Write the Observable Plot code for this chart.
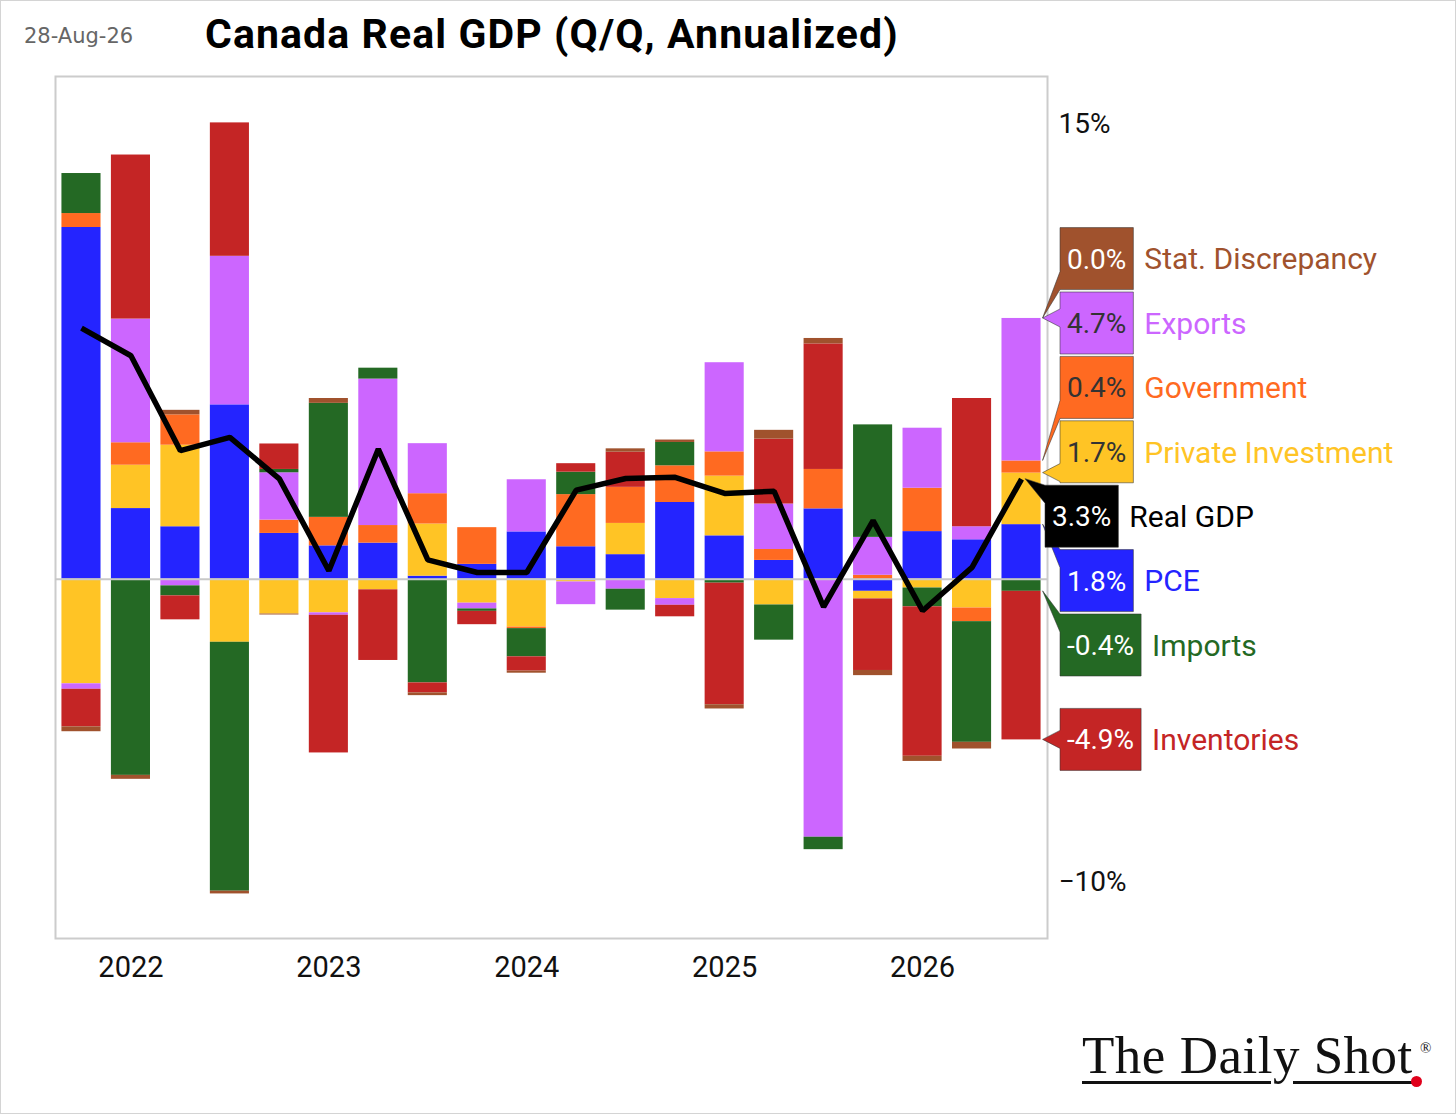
<!DOCTYPE html>
<html>
<head>
<meta charset="utf-8">
<script src="https://cdn.jsdelivr.net/npm/d3@7"></script>
<script src="https://cdn.jsdelivr.net/npm/@observablehq/plot@0.6"></script>
<style>
html, body { margin: 0; padding: 0; background: #fff; overflow: hidden; }
#wrap { position: relative; width: 1456px; height: 1114px; box-sizing: border-box; border: 1px solid #d4d4d4; background: #fff; overflow: hidden; }
#date { position: absolute; left: 23px; top: 25px; font-family: "DejaVu Sans", sans-serif; font-size: 21px; line-height: 1; color: #666; }
#title { position: absolute; left: 204px; top: 13px; font-family: Roboto, sans-serif; font-weight: 700; font-size: 41px; letter-spacing: 1.1px; line-height: 1; color: #000; }
#chart { position: absolute; left: 0; top: 0; }
#logo { position: absolute; left: 1081px; top: 1028px; font-family: "Liberation Serif", "DejaVu Serif", serif; font-size: 53px; line-height: 1; color: #111; white-space: nowrap; letter-spacing: 0.5px; }
#reg { position: absolute; left: 1419px; top: 1040px; font-family: "Liberation Serif", serif; font-size: 15px; line-height: 1; color: #111; }
.ul { position: absolute; height: 3px; background: #111; top: 1080px; }
#dot { position: absolute; left: 1410px; top: 1075px; width: 11px; height: 11px; border-radius: 50%; background: #e0001b; }
</style>
</head>
<body>
<div id="wrap">
  <div id="date">28-Aug-26</div>
  <div id="title">Canada Real GDP (Q/Q, Annualized)</div>
  <div id="chart"></div>
  <div id="logo">The Daily Shot</div>
  <div id="reg">®</div>
  <div class="ul" style="left:1081px;width:189px;"></div>
  <div class="ul" style="left:1292px;width:122px;"></div>
  <div id="dot"></div>
</div>
<script>
// ---------- data ----------
const quarters = ["2021Q4","2022Q1","2022Q2","2022Q3","2022Q4","2023Q1","2023Q2","2023Q3","2023Q4","2024Q1",
                  "2024Q2","2024Q3","2024Q4","2025Q1","2025Q2","2025Q3","2025Q4","2026Q1","2026Q2","2026Q3"];
const seriesNames = ["PCE","Private Investment","Government","Exports","Imports","Inventories","Stat. Discrepancy"];
const seriesColors = ["#2424FF","#FFC425","#FF6A21","#CC66FF","#246924","#C42525","#A0522D"];

const pce         = [11.6, 2.33, 1.73, 5.75, 1.51, 1.10, 1.19, 0.10, 0.49, 1.56, 1.07, 0.81, 2.53, 1.43, 0.62, 2.32, -0.40, 1.57, 1.30, 1.8];
const privInv     = [-3.45, 1.43, 2.69, -2.08, -1.15, -1.11, -0.35, 1.72, -0.79, -1.58, -0.09, 1.03, -0.64, 1.97, -0.85, -0.03, -0.25, -0.29, -0.95, 1.7];
const government  = [0.46, 0.74, 1.00, 0.00, 0.44, 0.94, 0.58, 1.00, 1.21, -0.05, 1.72, 1.19, 1.21, 0.80, 0.36, 1.30, 0.13, 1.43, -0.45, 0.4];
const exportsC    = [-0.18, 4.08, -0.22, 4.90, 1.56, -0.08, 4.83, 1.65, -0.19, 1.72, -0.75, -0.33, -0.22, 2.94, 1.50, -8.48, 1.25, 1.98, 0.43, 4.7];
const importsC    = [1.32, -6.47, -0.33, -8.21, 0.11, 3.76, 0.36, -3.42, -0.08, -0.93, 0.74, -0.69, 0.77, -0.13, -1.16, -0.41, 3.71, -0.62, -3.98, -0.4];
const inventories = [-1.24, 5.41, -0.79, 4.40, 0.84, -4.54, -2.33, -0.33, -0.44, -0.47, 0.28, 1.16, -0.38, -4.01, 2.14, 4.14, -2.36, -4.93, 4.23, -4.9];
const statDisc    = [-0.16, -0.13, 0.15, -0.09, -0.03, 0.16, 0.00, -0.09, 0.00, -0.07, 0.00, 0.11, 0.08, -0.14, 0.29, 0.18, -0.17, -0.17, -0.22, 0.0];
const realGDP     = [8.28, 7.37, 4.24, 4.68, 3.31, 0.28, 4.29, 0.64, 0.22, 0.22, 2.94, 3.32, 3.36, 2.83, 2.90, -0.91, 1.93, -1.04, 0.39, 3.3];

const xTickQuarters = ["2022Q1","2023Q1","2024Q1","2025Q1","2026Q1"];
const xTickLabels   = ["2022","2023","2024","2025","2026"];
const yTicks = [15, -10];
const gdpName = "Real GDP";
const gdpColor = "#000000";

// ---------- build table ----------
const seriesValues = [pce, privInv, government, exportsC, importsC, inventories, statDisc];
const rows = [];
quarters.forEach((q, i) => {
  seriesNames.forEach((s, j) => rows.push({quarter: q, series: s, value: seriesValues[j][i]}));
});
const gdpRows = quarters.map((q, i) => ({quarter: q, value: realGDP[i]}));

// ---------- callout labels (custom mark using Plot scales) ----------
const measureCtx = document.createElement("canvas").getContext("2d");
function textWidth(t, font) { measureCtx.font = font; return measureCtx.measureText(t).width; }
const fmtVal = v => (v < 0 ? "-" : "") + Math.abs(v).toFixed(1) + "%";
const lightFill = new Set(["Exports", "Government", "Private Investment"]);

function calloutMark(index, scales, values, dimensions) {
  const x = scales.x, y = scales.y;
  const bw = typeof x.bandwidth === "function" ? x.bandwidth() : (x.bandwidth || 0);
  const li = quarters.length - 1, lq = quarters[li];
  const barRight = x(lq) + bw;
  const lineX = x(lq) + bw / 2;
  const frameRight = dimensions.width - dimensions.marginRight;

  let pos = 0, neg = 0;
  const items = seriesNames.map((s, j) => {
    const v = seriesValues[j][li];
    let end;
    if (v >= 0) { pos += v; end = pos; } else { neg += v; end = neg; }
    const t = y(end);
    return {name: s, color: seriesColors[j], value: v, target: t, key: t - (v >= 0 ? j * 1e-3 : -j * 1e-3), isLine: false};
  });
  const gv = realGDP[li];
  items.push({name: gdpName, color: gdpColor, value: gv, target: y(gv), key: y(gv), isLine: true});

  // dodge: merge overlapping clusters, center each on its mean
  const S = 64.4;
  const sorted = items.slice().sort((a, b) => a.key - b.key);
  let clusters = sorted.map(d => ({items: [d], sum: d.target}));
  const topOf = c => c.sum / c.items.length - (c.items.length - 1) * S / 2;
  let merged = true;
  while (merged) {
    merged = false;
    for (let i = 0; i < clusters.length - 1; i++) {
      const a = clusters[i], b = clusters[i + 1];
      const aBottom = topOf(a) + (a.items.length - 1) * S;
      if (topOf(b) - aBottom < S) {
        clusters.splice(i, 2, {items: a.items.concat(b.items), sum: a.sum + b.sum});
        merged = true;
        break;
      }
    }
  }
  clusters.forEach(c => { const t0 = topOf(c); c.items.forEach((d, k) => d.ly = t0 + k * S); });

  const g = d3.create("svg:g").attr("text-anchor", "start");
  const valFont = "28px Roboto";
  for (const it of items) {
    const txt = fmtVal(it.value);
    const L = it.isLine ? frameRight - 2 : frameRight + 13;
    const R = L + textWidth(txt, valFont) + 14;
    const top = it.ly - 31, bottom = it.ly + 31;
    const tipX = it.isLine ? lineX + 4 : barRight + 2;
    const tipY = it.target;
    const h = 9;
    const bc = Math.max(top + h, Math.min(bottom - h, tipY));
    g.append("path")
      .attr("d", `M${L},${top}H${R}V${bottom}H${L}V${bc + h}L${tipX},${tipY}L${L},${bc - h}Z`)
      .attr("fill", it.color)
      .attr("stroke", "#333").attr("stroke-opacity", 0.55).attr("stroke-width", 1);
    g.append("text")
      .attr("x", R - 7).attr("y", it.ly).attr("dy", "0.36em")
      .attr("text-anchor", "end")
      .attr("font-family", "Roboto, sans-serif").attr("font-size", 28)
      .attr("fill", lightFill.has(it.name) ? "#333" : "#fff")
      .text(txt);
    g.append("text")
      .attr("x", R + 11).attr("y", it.ly).attr("dy", "0.36em")
      .attr("text-anchor", "start")
      .attr("font-family", "Roboto, sans-serif").attr("font-size", 30)
      .attr("fill", it.color)
      .text(it.name);
  }
  return g.node();
}

// ---------- plot ----------
const chart = Plot.plot({
  width: 1454,
  height: 1112,
  marginLeft: 54,
  marginRight: 408,
  marginTop: 75,
  marginBottom: 175,
  style: {fontFamily: "Roboto, sans-serif", background: "transparent", overflow: "visible", color: "#111"},
  x: {type: "band", domain: quarters, paddingInner: 0.21, paddingOuter: 0.13, round: false},
  y: {domain: [-11.85, 16.58]},
  color: {domain: seriesNames, range: seriesColors},
  marks: [
    Plot.frame({stroke: "#cccccc", strokeWidth: 2}),
    Plot.barY(rows, {x: "quarter", y: "value", fill: "series"}),
    Plot.ruleY([0], {stroke: "#c8c8c8", strokeWidth: 2}),
    Plot.line(gdpRows, {x: "quarter", y: "value", stroke: "#000", strokeWidth: 5.5, strokeLinejoin: "miter", strokeLinecap: "butt"}),
    calloutMark,
    Plot.axisX({ticks: xTickQuarters, tickFormat: q => xTickLabels[xTickQuarters.indexOf(q)], tickSize: 0, tickPadding: 18, fontSize: 29, label: null, fill: "#111"}),
    Plot.axisY({anchor: "right", ticks: yTicks, tickFormat: d => (d < 0 ? "\u2212" : "") + Math.abs(d) + "%", tickSize: 0, tickPadding: 11, fontSize: 28, label: null, fill: "#111"})
  ]
});
document.getElementById("chart").appendChild(chart);
</script>
</body>
</html>
